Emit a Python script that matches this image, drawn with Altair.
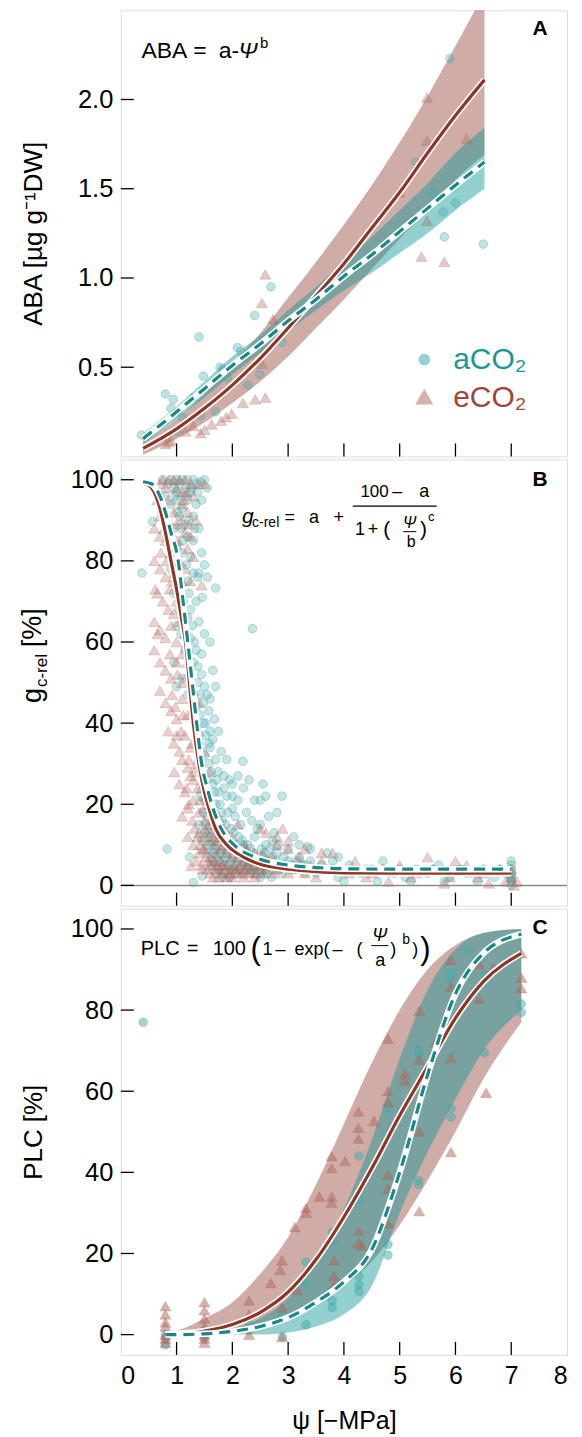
import altair as alt
import pandas as pd

FONT = "Liberation Sans"
TEAL = "#16888A"
RED = "#8E3526"
TEAL_PT = "#45A9AA"
RED_PT = "#B0655B"
TEAL_BAND = "#0E9696"
W, H = 447, 447

# ---------------- Panel A : ABA ----------------
aba_x = [0.4, 1.0, 1.5, 2.0, 2.5, 3.0, 3.5, 4.0, 4.5, 5.0, 5.5, 6.0, 6.52]
aba_e_fit = [0.045, 0.155, 0.27, 0.40, 0.55, 0.72, 0.90, 1.08, 1.28, 1.48, 1.70, 1.91, 2.11]
aba_e_lo = [0.01, 0.10, 0.19, 0.30, 0.42, 0.56, 0.72, 0.88, 1.05, 1.22, 1.38, 1.55, 1.69]
aba_e_hi = [0.08, 0.21, 0.35, 0.52, 0.69, 0.89, 1.09, 1.30, 1.52, 1.76, 2.02, 2.30, 2.60]
aba_a_fit = [0.10, 0.25, 0.38, 0.51, 0.63, 0.76, 0.88, 1.01, 1.13, 1.26, 1.39, 1.52, 1.65]
aba_a_lo = [0.07, 0.21, 0.33, 0.46, 0.58, 0.70, 0.82, 0.93, 1.03, 1.14, 1.25, 1.38, 1.50]
aba_a_hi = [0.13, 0.28, 0.42, 0.56, 0.68, 0.82, 0.95, 1.09, 1.23, 1.38, 1.53, 1.70, 1.84]

aba_a_pts_x = [5.90, 5.29, 5.59, 5.78, 6.00, 5.80, 6.50, 2.69, 2.40, 1.40, 2.89, 2.09, 2.15, 2.49,
               2.28, 1.48, 0.80, 0.94, 1.70, 1.43, 1.10, 1.00, 0.37, 1.83, 1.78, 1.91, 1.30, 0.90]
aba_a_pts_y = [2.23, 1.65, 1.48, 1.37, 1.42, 1.23, 1.19, 0.95, 0.79, 0.67, 0.64, 0.61, 0.59, 0.46,
               0.40, 0.45, 0.35, 0.32, 0.25, 0.23, 0.22, 0.14, 0.12, 0.49, 0.50, 0.44, 0.33, 0.27]
aba_e_pts_x = [5.49, 5.49, 6.20, 4.99, 5.49, 5.39, 5.80, 2.59, 2.53, 2.73, 2.53, 2.59, 2.41, 2.19,
               1.99, 1.80, 1.63, 1.50, 1.30, 1.16, 0.86, 0.80, 0.90, 1.43, 1.89]
aba_e_pts_y = [2.01, 1.77, 1.78, 1.48, 1.32, 1.12, 1.09, 1.02, 0.86, 0.77, 0.52, 0.33, 0.32, 0.30,
               0.24, 0.20, 0.18, 0.15, 0.17, 0.14, 0.08, 0.07, 0.09, 0.13, 0.22]
aba_ticks = [0.5, 1.0, 1.5, 2.0]

# ---------------- Panel B : g_c-rel ----------------
gc_e_x = [0.40, 0.55, 0.70, 0.80, 0.90, 1.00, 1.10, 1.16, 1.23, 1.30, 1.40, 1.50, 1.56, 1.70, 1.90,
          2.20, 2.50, 3.00, 3.50, 4.00, 5.00, 7.00]
gc_e_fit = [99.3, 98, 93, 87, 80, 73, 65, 60, 50, 40, 30, 23, 20, 14, 10, 7, 5.2, 4.0, 3.4, 3.1, 3.0, 3.0]
gc_a_x = [0.40, 0.55, 0.70, 0.80, 0.90, 1.03, 1.10, 1.20, 1.28, 1.36, 1.45, 1.55, 1.63, 1.80, 2.03,
          2.40, 3.00, 3.50, 4.00, 5.00, 7.00]
gc_a_fit = [99.5, 99, 96, 92, 87, 80, 72, 60, 50, 40, 30, 24, 20, 14, 10, 7, 5.0, 4.4, 4.1, 4.0, 4.0]

gc_a_pts = [
    (0.75, 100), (0.85, 99), (0.90, 100), (0.95, 98), (1.00, 100), (1.05, 99), (1.10, 100), (1.20, 100),
    (1.30, 100), (1.43, 99.5), (0.80, 96), (0.90, 94), (1.00, 95), (1.10, 93), (1.15, 96), (1.25, 97),
    (0.57, 89.7), (0.80, 90), (0.95, 88), (1.05, 91), (1.15, 89), (1.20, 86), (1.30, 91), (0.85, 85),
    (1.00, 84), (1.10, 82), (1.25, 81), (0.90, 78), (1.03, 76), (1.20, 75), (1.30, 77), (1.38, 76),
    (1.46, 71), (1.70, 73.3), (1.40, 77), (0.38, 77),
    (0.95, 72), (1.05, 68), (1.12, 70), (1.20, 66), (1.00, 64), (1.08, 62), (1.15, 58), (1.25, 61),
    (1.30, 55), (1.38, 54), (1.45, 52), (1.50, 49), (1.55, 47), (1.48, 45), (1.60, 46), (1.10, 51),
    (0.95, 55), (1.00, 49), (1.20, 47), (1.35, 44), (1.42, 42), (1.52, 40), (1.60, 38), (2.36, 63.3),
    (1.40, 35), (1.50, 32), (1.60, 34), (1.70, 31), (1.45, 28), (1.55, 26), (1.65, 25), (1.75, 28),
    (1.85, 27), (1.95, 26), (2.00, 25), (2.10, 27), (2.19, 30.6), (2.30, 26), (1.50, 21), (1.60, 19),
    (1.70, 20), (1.80, 18), (1.90, 22), (2.00, 19), (2.10, 21), (2.20, 24), (2.40, 21), (2.50, 21),
    (2.89, 22), (2.65, 17), (2.80, 18),
    (1.40, 15), (1.50, 13), (1.60, 12), (1.70, 11), (1.80, 9), (1.90, 8), (2.00, 7), (2.10, 6),
    (2.20, 5), (2.30, 4), (1.65, 8), (1.75, 6), (1.85, 5), (1.95, 4), (2.05, 3), (2.40, 3), (2.60, 4),
    (2.80, 5), (3.00, 6), (2.20, 10), (2.40, 12), (2.60, 10), (2.80, 8), (3.00, 9), (3.20, 7),
    (3.40, 6), (3.60, 5), (3.80, 6), (2.50, 15), (2.75, 13), (3.10, 12), (0.83, 9), (1.23, 7),
    (1.30, 0.7), (1.46, 2.3),
    (3.5, 3), (3.7, 4), (3.9, 2), (4.1, 5), (4.3, 3), (4.5, 4), (4.7, 6), (4.9, 3), (5.1, 2), (5.3, 4),
    (5.5, 3), (5.7, 5), (5.9, 2), (6.1, 4), (6.3, 3), (6.5, 4), (6.7, 2), (6.9, 3), (7.0, 6), (7.0, 4),
    (7.0, 2), (7.0, 1), (7.0, 0), (7.0, 5), (7.0, 3), (4.0, 1), (4.6, 1), (5.2, 1), (5.8, 1), (6.4, 1),
    (1.35, 99), (1.50, 100), (1.55, 98), (1.00, 97), (1.20, 95), (1.35, 94), (1.40, 88), (1.30, 85),
    (1.45, 82), (1.50, 79), (1.55, 76), (1.35, 70), (1.25, 68), (1.40, 65), (1.50, 62), (1.60, 60),
    (1.35, 58), (1.45, 57), (1.65, 53), (1.70, 49), (1.58, 43), (1.68, 41), (1.75, 38), (1.65, 36),
    (1.80, 33), (1.90, 31), (1.75, 23), (1.85, 24), (2.00, 22), (2.05, 17), (2.15, 15), (2.25, 18),
    (2.35, 16), (2.45, 14), (1.55, 17), (1.65, 15), (1.75, 14), (1.85, 12), (1.95, 11), (2.05, 10),
    (2.15, 9), (2.25, 8), (2.35, 7), (2.45, 6), (2.55, 7), (2.65, 6), (2.75, 4), (2.90, 3), (3.10, 4),
    (3.30, 3), (1.55, 10), (1.65, 6), (1.75, 4), (1.85, 3), (1.95, 2), (2.50, 2), (2.70, 2), (3.20, 10),
    (3.40, 9), (3.70, 8), (3.90, 7), (2.55, 25), (2.60, 22), (3.35, 9.5), (3.25, 5),
    (4.4, 4), (5.0, 4), (5.6, 4), (6.2, 3), (6.8, 4), (7.0, 2.5), (7.0, 1.5),
    (1.42, 22), (1.48, 18), (1.52, 15), (1.58, 13), (1.62, 10), (1.68, 9), (1.72, 7), (1.78, 8),
    (1.82, 6), (1.88, 7), (1.92, 5), (1.98, 6), (2.02, 4), (2.08, 5), (2.12, 4), (2.18, 3), (2.22, 6),
    (2.28, 5), (2.32, 3), (2.38, 4), (2.42, 5), (2.48, 4), (2.52, 3), (2.58, 5), (2.62, 3), (2.68, 5),
    (2.72, 7), (2.78, 6), (2.85, 4), (2.95, 5), (1.45, 11), (1.55, 8), (1.62, 5), (1.72, 3), (1.82, 2),
    (1.58, 30), (1.62, 28), (1.68, 23), (1.72, 26), (1.78, 20), (1.82, 16), (1.88, 15), (1.92, 18),
    (1.98, 14), (2.02, 13), (2.12, 12), (2.18, 11), (2.28, 10), (2.32, 9), (2.38, 8), (2.52, 9),
    (2.58, 8), (2.68, 9), (2.72, 11), (2.82, 10), (2.92, 7), (3.05, 5), (3.15, 6), (3.30, 5), (3.45, 4),
    (1.52, 37), (1.58, 35), (1.48, 40), (1.42, 47), (1.38, 50), (1.32, 60), (1.28, 64), (1.22, 72),
    (1.18, 79), (1.12, 85), (1.08, 88), (1.02, 92), (0.98, 96), (1.18, 98), (1.28, 98), (1.38, 97),
    (1.45, 95), (1.32, 88), (1.22, 90),
]
gc_e_pts = [
    (0.75, 100), (0.85, 100), (0.95, 100), (1.05, 100), (1.15, 100), (1.25, 99), (1.40, 99), (1.50, 99),
    (0.65, 95), (0.75, 93), (0.85, 95), (0.95, 92), (1.10, 94), (1.20, 92), (1.35, 90), (0.60, 88),
    (0.70, 86), (0.80, 85), (0.90, 87), (1.00, 84), (1.20, 83), (1.30, 81), (0.60, 80), (0.70, 78),
    (0.80, 76), (0.95, 77), (1.10, 75), (1.45, 74), (0.65, 72), (0.75, 70), (0.85, 68), (1.00, 70),
    (0.60, 65), (0.70, 63), (0.80, 61), (0.90, 64), (1.00, 60), (0.60, 58), (0.70, 55), (0.80, 53),
    (0.90, 51), (1.00, 55), (1.10, 57), (0.70, 48), (0.80, 45), (0.90, 43), (1.00, 41), (1.10, 46),
    (1.20, 42), (1.30, 48), (1.40, 45), (0.85, 38), (0.95, 35), (1.05, 33), (1.15, 37), (1.25, 34),
    (1.40, 38), (0.96, 28), (1.05, 25), (1.15, 23), (1.25, 27), (1.35, 30), (1.50, 33), (1.60, 28),
    (1.10, 17), (1.20, 19), (1.30, 21), (1.40, 18), (1.50, 16), (1.60, 20), (1.70, 15), (1.20, 12),
    (1.30, 10), (1.40, 8), (1.50, 9), (1.60, 7), (1.70, 8), (1.80, 6), (1.90, 5), (2.00, 4), (2.10, 3),
    (2.20, 4), (2.30, 3), (2.50, 5), (1.26, 4.8), (1.46, 4), (2.00, 12), (2.20, 10), (2.40, 8),
    (2.60, 13), (2.80, 12), (3.00, 9), (3.20, 7), (3.40, 5), (3.60, 6), (3.80, 8), (2.50, 14),
    (3.5, 2), (3.8, 4), (4.1, 3), (4.4, 2), (4.7, 4), (5.0, 5), (5.3, 3), (5.6, 4), (5.9, 2), (6.2, 5),
    (6.5, 3), (6.8, 4), (7.0, 2), (7.05, 0), (7.1, 1), (7.0, 4), (4.2, 6), (5.5, 7), (6.0, 6), (4.8, 1),
    (5.8, 0.5), (6.6, 0.5),
    (0.70, 99), (0.80, 98), (1.00, 98), (1.10, 97), (1.30, 96), (0.70, 91), (0.85, 90), (1.00, 89),
    (1.15, 87), (1.25, 86), (0.90, 82), (1.05, 80), (1.15, 78), (1.25, 75), (0.95, 67), (1.05, 65),
    (1.15, 62), (1.20, 55), (1.10, 50), (1.20, 52), (1.30, 43), (1.35, 40), (1.00, 37), (1.10, 31),
    (1.20, 29), (1.30, 26), (1.45, 24), (1.55, 22), (1.40, 13), (1.50, 12), (1.60, 11), (1.70, 10),
    (1.80, 9), (1.90, 8), (2.00, 7), (2.10, 7), (2.20, 6), (2.30, 6), (2.40, 5), (2.60, 4), (2.80, 4),
    (3.00, 3), (1.60, 3), (1.70, 4), (1.80, 3), (1.90, 2), (2.00, 2), (2.20, 2), (2.40, 2), (2.80, 10),
    (3.00, 11), (3.30, 9), (3.60, 8), (2.90, 14), (1.75, 17), (1.85, 14), (2.10, 15), (3.10, 4),
    (3.30, 3), (4.5, 3), (5.2, 2), (6.4, 2), (6.9, 1),
    (1.22, 20), (1.28, 16), (1.32, 14), (1.38, 12), (1.42, 10), (1.48, 9), (1.52, 7), (1.58, 6),
    (1.62, 5), (1.68, 6), (1.72, 5), (1.78, 4), (1.82, 5), (1.88, 4), (1.92, 3), (1.98, 3), (2.02, 5),
    (2.08, 4), (2.12, 5), (2.18, 3), (2.22, 4), (2.28, 5), (2.32, 4), (2.42, 3), (2.48, 4), (2.55, 3),
    (2.65, 5), (2.75, 3), (1.35, 6), (1.45, 5), (1.55, 4), (1.65, 2), (1.75, 2), (1.18, 24), (1.22, 31),
    (1.28, 35), (1.32, 28), (1.38, 24), (1.42, 21), (1.48, 19), (1.52, 14), (1.58, 15), (1.62, 13),
    (1.68, 12), (1.72, 11), (1.78, 12), (1.85, 10), (1.95, 10), (2.05, 9), (2.15, 8), (2.25, 9),
    (2.35, 7), (2.45, 7), (2.55, 8), (2.70, 7), (0.88, 57), (0.92, 47), (0.98, 44), (1.02, 52),
    (1.08, 38), (1.12, 42), (0.78, 88), (0.82, 80), (0.88, 73), (0.92, 75), (0.98, 78), (1.02, 85),
    (1.08, 90), (1.12, 95), (1.18, 97), (1.22, 89), (0.68, 97), (0.72, 82), (0.62, 73), (0.66, 62),
]
pct_ticks = [0, 20, 40, 60, 80, 100]

# ---------------- Panel C : PLC ----------------
plc_x = [0.8, 1.0, 1.5, 2.0, 2.5, 3.0, 3.5, 4.0, 4.5, 5.0, 5.5, 6.0, 6.5, 7.18]
plc_e_fit = [0.1, 0.2, 0.9, 2.5, 5.5, 10.5, 18.5, 29, 41, 54, 66, 78, 87, 94]
plc_e_lo = [0, 0, 0, 0.5, 1.5, 4, 7, 12, 18, 27, 38, 50, 63, 77]
plc_e_hi = [0.5, 1, 4, 8, 15, 24, 37, 52, 67, 80, 90, 96, 99, 100]
plc_a_fit = [0, 0, 0.2, 0.8, 2.0, 4.2, 8, 13, 21, 40, 64, 84, 94, 98.7]
plc_a_lo = [0, 0, 0, 0, 0, 0.5, 2, 5, 12, 30, 45, 58, 70, 80]
plc_a_hi = [0, 0, 0.5, 1.5, 4, 9, 18, 31, 48, 68, 85, 95, 99, 100]

plc_e_pts_x = [0.8, 0.8, 0.8, 0.8, 0.8, 0.8, 0.8, 1.5, 1.5, 1.5, 1.5, 1.5, 1.5, 1.5,
               2.3, 2.3, 2.3, 2.69, 2.89, 2.86, 2.89, 2.89, 3.12, 3.32, 3.32, 3.16,
               3.56, 3.78, 3.78, 3.78, 3.78, 4.02, 3.82, 3.82, 3.82,
               4.26, 4.26, 4.26, 4.54, 4.26, 4.26, 4.32, 4.79, 4.79, 4.79, 4.79, 4.79, 4.79,
               5.09, 5.09, 5.35, 5.35, 5.35, 5.35, 5.65, 5.92, 5.92, 5.92, 5.92,
               6.42, 6.42, 6.55, 6.68, 7.18, 7.18, 7.18]
plc_e_pts_y = [7, 5, 3, 2, 0, -1, -2, 8, 6, 4, 2, 0, -1, -2,
               8.4, 5, 0, 12.7, 18.3, 16, 6.7, -0.6, 26.5, 31.2, 30, 11,
               34, 34, 32.5, 41, 44, 42.8, 18.3, 14.4, 12.3,
               55, 51, 48.3, 52.7, 25.6, 22.6, 22, 72.9, 60, 57.4, 39.4, 36, 27.4,
               64.3, 62.6, 79.8, 67.8, 50.1, 30.4, 72, 92.3, 85.8, 68.2, 45,
               91.4, 82.8, 59.6, 90.5, 94, 88, 85.4]
plc_a_pts_x = [0.40, 0.8, 0.8, 0.8, 1.5, 1.5, 1.5, 2.3, 2.3, 2.9, 2.9, 3.32, 3.32, 3.32, 3.32,
               3.79, 3.79, 3.79, 3.79, 4.27, 4.27, 4.27, 4.27, 4.27, 4.79, 4.79, 4.79, 4.79,
               5.34, 5.34, 5.34, 5.34, 5.92, 5.92, 5.92, 5.92, 6.23, 6.52, 6.52, 7.18, 7.18]
plc_a_pts_y = [77, 0, -1, -2.5, 0, 1, -1, 2.4, 1.1, -0.6, 5, 2.4, 15.3, 17.9, 12.7,
               25.2, 23, 8.4, 6.7, 44, 33.3, 12.3, 10.6, 14.4, 56, 49.4, 22.2, 19.6,
               70.3, 69, 38, 37, 87.5, 55.7, 53.6, 89.3, 94.8, 88.8, 69.5, 81.5, 79.4]

x_ticks = [1, 2, 3, 4, 5, 6, 7]
x_labels = [0, 1, 2, 3, 4, 5, 6, 7, 8]


# ---------------- helpers ----------------
def xs():
    return alt.Scale(domain=[0, 8], nice=False, zero=False)


def X(field, labels=False):
    if labels:
        ax = alt.Axis(values=x_labels, format="d", ticks=False, tickSize=0, domain=False, grid=False,
                      labelFontSize=25, labelPadding=9, labelFont=FONT, labelColor="black",
                      title="ψ [−MPa]", titleFontSize=25, titleFont=FONT, titleFontWeight="normal",
                      titlePadding=20, titleColor="black")
    else:
        ax = None
    return alt.X(field, type="quantitative", scale=xs(), axis=ax)


def Y(field, domain, ticks, fmt, title=None):
    ax = alt.Axis(values=ticks, format=fmt, ticks=False, tickSize=0, domain=False, grid=False,
                  labelFontSize=25.5, labelPadding=8, labelFont=FONT, labelColor="black",
                  minExtent=52, maxExtent=52,
                  title=title if title else "", titleFontSize=26, titleFont=FONT,
                  titleFontWeight="normal", titleColor="black", titlePadding=27,
                  titleBaseline="alphabetic")
    return alt.Y(field, type="quantitative", scale=alt.Scale(domain=domain, nice=False, zero=False), axis=ax)


def txt(s, x, y, size=18, color="black", align="left", baseline="alphabetic", style="normal",
        weight="normal", angle=0):
    kw = dict(align=align, baseline=baseline, fontSize=size, font=FONT, color=color,
              fontStyle=style, fontWeight=weight)
    if angle:
        kw["angle"] = angle
    return alt.Chart(pd.DataFrame({"t": [s]})).mark_text(**kw).encode(
        x=alt.value(x), y=alt.value(y), text="t:N")


def hbar(x1, x2, y, w=1.2):
    return alt.Chart(pd.DataFrame({"t": [0]})).mark_rule(color="black", strokeWidth=w).encode(
        x=alt.value(x1), x2=alt.value(x2), y=alt.value(y))


def panel(domain, yticks, fmt, title, layers, xlab=False, pt_op=0.33):
    yy = lambda f: Y(f, domain, yticks, fmt, title)
    xx = lambda f: X(f, xlab)
    out = []
    for kind, df, opts in layers:
        if kind == "band":
            out.append(alt.Chart(df).mark_area(color=opts["color"], opacity=opts["op"], clip=True,
                                               interpolate="monotone").encode(
                x=xx("x"), y=yy("lo"), y2="hi"))
        elif kind == "circle":
            out.append(alt.Chart(df).mark_point(shape="circle", filled=True, size=75, fill=TEAL_PT,
                                                fillOpacity=pt_op, stroke=TEAL_PT, strokeOpacity=0.45,
                                                strokeWidth=0.8, clip=True).encode(x=xx("x"), y=yy("y")))
        elif kind == "tri":
            out.append(alt.Chart(df).mark_point(shape="triangle-up", filled=True, size=125, fill=RED_PT,
                                                fillOpacity=pt_op, stroke=RED_PT, strokeOpacity=0.3,
                                                strokeWidth=0.8, clip=True).encode(x=xx("x"), y=yy("y")))
        elif kind == "line":
            out.append(alt.Chart(df).mark_line(color="white", strokeWidth=6.5, interpolate="monotone",
                                               clip=True).encode(x=xx("x"), y=yy("y")))
            kw = dict(color=opts["color"], strokeWidth=3.2, interpolate="monotone", clip=True)
            if opts.get("dash"):
                kw["strokeDash"] = [11, 7]
            out.append(alt.Chart(df).mark_line(**kw).encode(x=xx("x"), y=yy("y")))
    # inward ticks
    out.append(alt.Chart(pd.DataFrame({"x": x_ticks})).mark_rule(color="black", strokeWidth=1.3).encode(
        x=xx("x"), y=alt.value(H), y2=alt.value(H - 13)))
    out.append(alt.Chart(pd.DataFrame({"y": yticks})).mark_rule(color="black", strokeWidth=1.3).encode(
        y=yy("y"), x=alt.value(0), x2=alt.value(13)))
    return out


# ---------------- Panel A ----------------
dfA_e = pd.DataFrame({"x": aba_x, "y": aba_e_fit, "lo": aba_e_lo, "hi": aba_e_hi})
dfA_a = pd.DataFrame({"x": aba_x, "y": aba_a_fit, "lo": aba_a_lo, "hi": aba_a_hi})
dfA_ap = pd.DataFrame({"x": aba_a_pts_x, "y": aba_a_pts_y})
dfA_ep = pd.DataFrame({"x": aba_e_pts_x, "y": aba_e_pts_y})

layersA = panel([0, 2.5], aba_ticks, ".1f", "ABA [µg g⁻¹DW]", [
    ("band", dfA_e, {"color": RED, "op": 0.41}),
    ("band", dfA_a, {"color": TEAL_BAND, "op": 0.45}),
    ("circle", dfA_ap, {}),
    ("tri", dfA_ep, {}),
    ("line", dfA_e, {"color": RED}),
    ("line", dfA_a, {"color": TEAL, "dash": True}),
], pt_op=0.35)
layersA += [
    txt("ABA", 20.7, 47.5, size=23),
    txt("=", 72.5, 47.5, size=23),
    txt("a-", 98, 47.5, size=23),
    txt("Ψ", 118, 47.5, size=23, style="italic"),
    txt("b", 139.5, 37.5, size=15),
    txt("A", 420, 19, size=21, weight="bold", align="center", baseline="middle"),
    alt.Chart(pd.DataFrame({"t": [0]})).mark_point(shape="circle", filled=True, size=140, fill=TEAL_PT,
                                                   fillOpacity=0.55, strokeOpacity=0).encode(
        x=alt.value(304), y=alt.value(350)),
    alt.Chart(pd.DataFrame({"t": [0]})).mark_point(shape="triangle-up", filled=True, size=330,
                                                   fill=RED_PT, fillOpacity=0.5, strokeOpacity=0).encode(
        x=alt.value(304), y=alt.value(387)),
    txt("aCO₂", 333, 350, size=30, color="#1C9797", baseline="middle"),
    txt("eCO₂", 333, 388, size=30, color="#A0463A", baseline="middle"),
]
chartA = alt.layer(*layersA).properties(width=W, height=H)

# ---------------- Panel B ----------------
dfB_e = pd.DataFrame({"x": gc_e_x, "y": gc_e_fit})
dfB_a = pd.DataFrame({"x": gc_a_x, "y": gc_a_fit})
dfB_ap = pd.DataFrame({"x": [p[0] for p in gc_a_pts], "y": [p[1] for p in gc_a_pts]})
dfB_ep = pd.DataFrame({"x": [p[0] for p in gc_e_pts], "y": [p[1] for p in gc_e_pts]})

zero_line = alt.Chart(pd.DataFrame({"y": [0]})).mark_rule(color="#8a8a8a", strokeWidth=1.5).encode(
    y=Y("y", [-5, 105], pct_ticks, "d"))
layersB = [zero_line] + panel([-5, 105], pct_ticks, "d", None, [
    ("circle", dfB_ap, {}),
    ("tri", dfB_ep, {}),
    ("line", dfB_e, {"color": RED}),
    ("line", dfB_a, {"color": TEAL, "dash": True}),
], pt_op=0.3)
layersB += [
    # y title  g_c-rel [%]
    txt("g", -80, 244, size=27, angle=270),
    txt("c-rel", -74, 228, size=17, angle=270),
    txt("[%]", -80, 188, size=27, angle=270),
    # equation
    txt("g", 121.4, 64, size=21, style="italic"),
    txt("c-rel", 131.5, 68, size=14),
    txt("=", 164, 64, size=18),
    txt("a", 188.5, 64, size=18),
    txt("+", 213, 64, size=18),
    txt("100", 240, 37.3, size=17),
    txt("–", 272, 37.3, size=18),
    txt("a", 299, 37.3, size=18),
    hbar(232.4, 316.4, 46.7),
    txt("1", 234.7, 75.7, size=18),
    txt("+", 247.5, 75.7, size=18),
    txt("(", 263, 77, size=21),
    txt("Ψ", 282.7, 68.5, size=16, style="italic"),
    hbar(283, 296, 72.3, 1.0),
    txt("b", 286.4, 88, size=16),
    txt(")", 299.7, 77, size=21),
    txt("c", 307.7, 62, size=13),
    txt("B", 420, 21, size=21, weight="bold", align="center", baseline="middle"),
]
chartB = alt.layer(*layersB).properties(width=W, height=H)

# ---------------- Panel C ----------------
dfC_e = pd.DataFrame({"x": plc_x, "y": plc_e_fit, "lo": plc_e_lo, "hi": plc_e_hi})
dfC_a = pd.DataFrame({"x": plc_x, "y": plc_a_fit, "lo": plc_a_lo, "hi": plc_a_hi})
dfC_ap = pd.DataFrame({"x": plc_a_pts_x, "y": plc_a_pts_y})
dfC_ep = pd.DataFrame({"x": plc_e_pts_x, "y": plc_e_pts_y})

layersC = panel([-5, 105], pct_ticks, "d", "PLC [%]", [
    ("band", dfC_e, {"color": RED, "op": 0.41}),
    ("band", dfC_a, {"color": TEAL_BAND, "op": 0.45}),
    ("circle", dfC_ap, {}),
    ("tri", dfC_ep, {}),
    ("line", dfC_e, {"color": RED}),
    ("line", dfC_a, {"color": TEAL, "dash": True}),
], xlab=True, pt_op=0.5)
layersC += [
    txt("PLC", 20, 46, size=20),
    txt("=", 66, 46, size=20),
    txt("100", 92, 46, size=20),
    txt("(", 130, 50, size=31),
    txt("1", 142, 46, size=18),
    txt("–", 155, 46, size=18),
    txt("exp(", 174, 46, size=18),
    txt("–", 212, 46, size=18),
    txt("(", 236, 46, size=18),
    txt("Ψ", 252, 32, size=18, style="italic"),
    hbar(251, 268, 37, 1.0),
    txt("a", 255, 57, size=18),
    txt(")", 270, 46, size=18),
    txt("b", 282, 35, size=14),
    txt(")", 292, 46, size=18),
    txt(")", 300, 50, size=31),
    txt("C", 420, 19, size=21, weight="bold", align="center", baseline="middle"),
]
chartC = alt.layer(*layersC).properties(width=W, height=H)

chart = alt.vconcat(chartA, chartB, chartC, spacing=0).resolve_scale(
    x="independent", y="independent"
).properties(
    padding={"left": 10, "top": 0, "right": 5, "bottom": 5}
).configure_view(
    stroke="black", strokeWidth=1.8
).configure(font=FONT)

chart.save("out.html", embed_options={"renderer": "svg", "actions": False})
